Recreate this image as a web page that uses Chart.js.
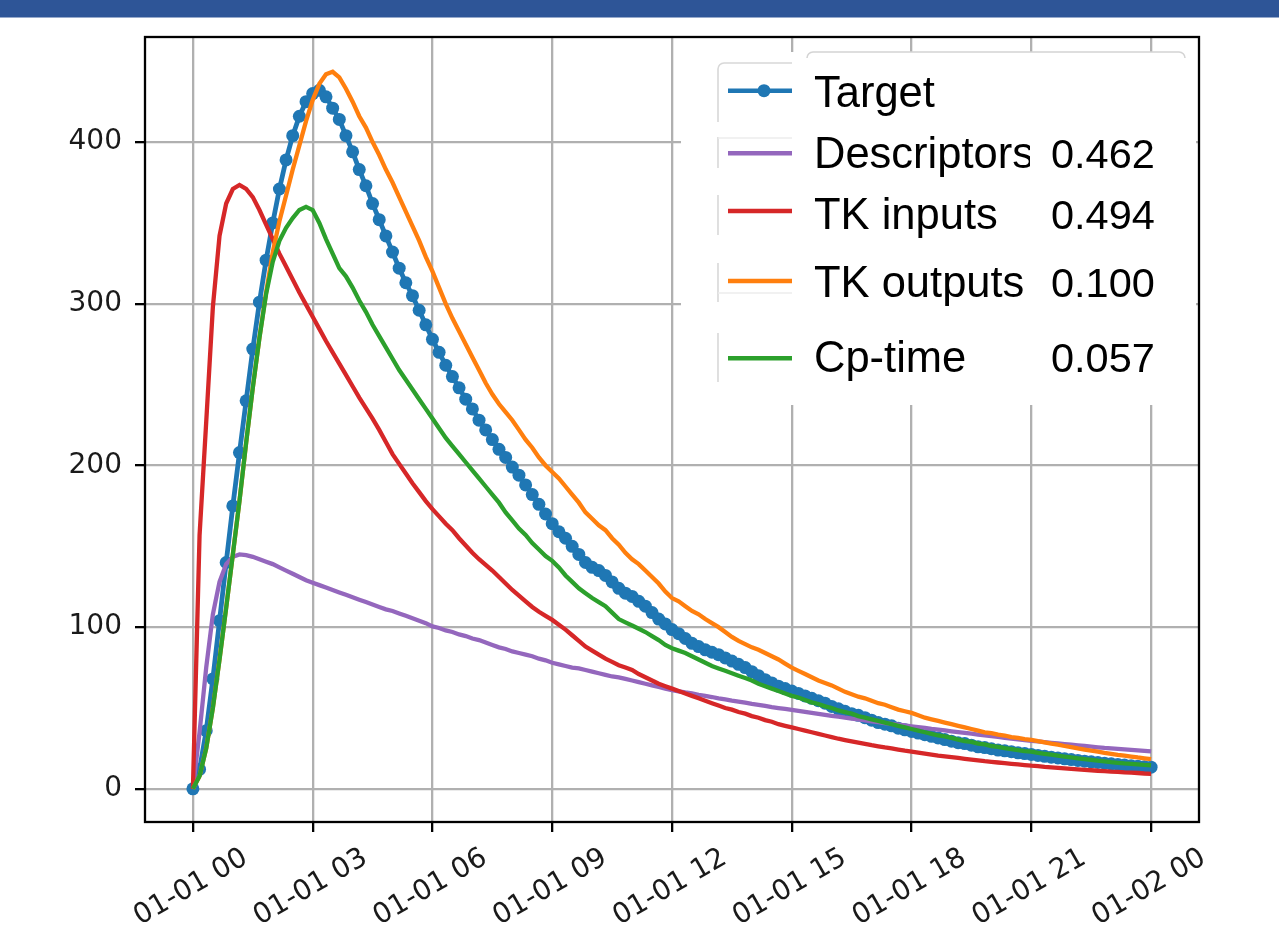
<!DOCTYPE html>
<html>
<head>
<meta charset="utf-8">
<title>Concentration profiles</title>
<script src="https://cdn.jsdelivr.net/npm/chart.js@4.4.1/dist/chart.umd.min.js"></script>
<style>
  html, body { margin: 0; padding: 0; background: #ffffff; }
  canvas { display: block; }
</style>
</head>
<body>
<canvas id="chart" width="1279" height="950"></canvas>
<script>
// Sampling grid: one value every 10 minutes over 24 hours (145 samples)
const sampleMinutes = Array.from({ length: 145 }, (_, i) => i * 10);

const xTickHours = [0, 3, 6, 9, 12, 15, 18, 21, 24];
const xTickLabels = ['01-01 00', '01-01 03', '01-01 06', '01-01 09', '01-01 12',
                     '01-01 15', '01-01 18', '01-01 21', '01-02 00'];
const yTickValues = [0, 100, 200, 300, 400];

const seriesNames = ['Target', 'Descriptors', 'TK inputs', 'TK outputs', 'Cp-time'];
const seriesScores = ['', '0.462', '0.494', '0.100', '0.057'];

const targetValues = [
  0, 12, 36, 68, 104, 140, 175, 208, 240, 272, 301, 327,
  350, 371, 389, 404, 416, 425, 430, 432, 428, 421, 414, 404,
  394, 383, 373, 362, 352, 342, 332, 322, 313, 305, 296, 287,
  278, 270, 262, 255, 248, 241, 235, 228, 222, 216, 210, 205,
  199, 194, 188, 182, 176, 170, 164, 159, 155, 150, 145, 140,
  137, 135, 132, 128, 124, 121, 119, 116, 113, 109, 105, 102,
  98.5, 96, 93, 90, 88, 86, 84.5, 83, 81, 79, 77, 75,
  72.5, 70, 67.5, 65.5, 63.5, 62, 60.5, 59, 57.5, 56, 54.5, 53,
  51, 49.5, 48, 46.5, 45.5, 44, 42.5, 41, 40, 39, 37.5, 36.5,
  35.5, 34.5, 33.5, 32.5, 31.5, 30.5, 29.5, 28.5, 28, 27, 26, 25.5,
  24.8, 24, 23.5, 23, 22.3, 21.8, 21.3, 20.7, 20.1, 19.6, 19.1, 18.6,
  18.1, 17.6, 17.1, 16.7, 16.3, 15.9, 15.5, 15.1, 14.7, 14.3, 14, 13.7,
  13.4
];

const descriptorValues = [
  0, 35, 75, 108, 128, 139, 143.5, 145, 144.5, 143.5, 142, 140.5,
  139, 137, 135, 133, 131, 129, 127.5, 126, 124.5, 123, 121.5, 120,
  118.5, 117, 115.5, 114, 112.5, 111, 110, 108.5, 107, 105.5, 104, 102.5,
  100.5, 99.5, 98, 97, 95.5, 94.5, 93, 92, 90.5, 89, 87.5, 86.5,
  85, 84, 83, 82, 80.5, 79.5, 78, 77, 76, 75, 74.5, 73.5,
  72.5, 71.5, 70.5, 69.5, 69, 68, 67, 66, 65, 64, 63, 62,
  61, 60.3, 59.6, 59, 58.2, 57.5, 56.8, 56, 55.3, 54.6, 54, 53.3,
  52.6, 52, 51.3, 50.6, 50, 49.4, 48.8, 48.2, 47.6, 47, 46.4, 45.8,
  45.2, 44.6, 44, 43.5, 42.9, 42.3, 41.8, 41.2, 40.7, 40.2, 39.7, 39.2,
  38.7, 38.2, 37.7, 37.1, 36.6, 36.1, 35.6, 35.1, 34.6, 34.1, 33.6, 33.1,
  32.6, 32.1, 31.6, 31.1, 30.6, 30.2, 29.7, 29.3, 28.9, 28.5, 28.1, 27.7,
  27.3, 26.9, 26.5, 26.1, 25.7, 25.3, 25, 24.7, 24.4, 24.1, 23.8, 23.5,
  23.2
];

const tkInputValues = [
  0, 157, 227, 298, 342, 362, 371, 373.5, 371, 366, 358, 349,
  340, 331, 323, 315, 307, 299.5, 292, 284.5, 277, 270, 263, 256,
  249, 242, 235.5, 229, 222, 214.5, 207, 201, 195, 189, 183.5, 178,
  173, 168.5, 164, 160, 155, 150.5, 146, 142, 138.5, 135, 131, 127,
  123, 119.5, 116, 112.5, 109.5, 107, 104.5, 101.5, 98.5, 95, 91.5, 88,
  85.5, 83, 80.5, 78.5, 76.5, 75, 73.5, 71, 69, 67, 65, 63.5,
  62, 60.5, 59, 57.5, 56, 54.5, 53, 51.5, 50, 49, 47.5, 46.5,
  45, 44, 42.5, 41.5, 40, 39, 38, 37, 36, 35, 34, 33,
  32, 31, 30.2, 29.4, 28.6, 27.8, 27, 26.3, 25.6, 25, 24.3, 23.6,
  23, 22.4, 21.8, 21.2, 20.6, 20.1, 19.6, 19.1, 18.6, 18.1, 17.6, 17.1,
  16.7, 16.3, 15.9, 15.5, 15.1, 14.7, 14.3, 14, 13.6, 13.3, 13, 12.7,
  12.4, 12.1, 11.8, 11.5, 11.2, 11, 10.7, 10.5, 10.2, 10, 9.8, 9.5,
  9.3
];

const tkOutputValues = [
  0, 8, 25, 50, 80, 112, 145, 178, 214, 248, 279, 307,
  332, 351, 367, 383, 398, 413, 426, 436, 442, 443.5, 440, 433,
  425, 416, 409, 400, 392, 383, 375, 366, 357, 348, 339, 329,
  320, 310, 300, 291, 283, 275, 267, 259, 251, 244, 238, 233,
  228, 222, 216, 211, 205, 200, 196, 192, 187, 182, 177, 171,
  167, 163, 160, 155, 151, 146, 142, 139, 135, 131, 127, 122,
  118, 116, 113, 110, 108, 105, 102.5, 100, 97, 94, 91.5, 89.5,
  87.5, 86, 84, 82, 80, 77.5, 75, 73, 71, 69, 67, 65.5,
  64, 62, 60, 58.5, 57, 56, 54.5, 53, 52, 50.5, 49, 48,
  47, 45.5, 44, 43, 42, 41, 40, 39, 38, 37, 36, 35,
  34.5, 33.5, 33, 32, 31.5, 30.8, 30.3, 29.5, 28.8, 28, 27.3, 26.5,
  25.8, 25, 24.3, 23.6, 23, 22.3, 21.7, 21, 20.5, 20, 19.4, 18.9,
  18.4
];

const cpTimeValues = [
  0, 8, 25, 50, 80, 112, 145, 178, 214, 248, 279, 306,
  326, 339, 347, 353, 358, 360, 358, 350, 340, 331, 322, 317,
  310, 302, 295, 287, 280, 273, 266, 259, 253, 247, 241, 235,
  229, 223, 217, 212, 207, 202, 197, 192, 187, 182, 177, 171,
  166, 161, 157, 152, 148, 144, 141, 137, 132, 128, 124, 121,
  118, 115.5, 113, 109, 105, 103, 101, 99, 97, 94.5, 92, 89,
  87, 85.5, 84, 82, 80, 78, 76, 74.5, 73, 71.5, 70, 68.5,
  67, 65, 63.5, 62, 60.5, 59, 57.5, 56.5, 55, 53.5, 52.5, 51,
  50, 48.5, 47.5, 46.5, 45, 44, 43, 42, 41, 40, 39, 38,
  37, 36, 35, 34, 33, 32.5, 31.5, 30.5, 29.5, 29, 28, 27.5,
  26.5, 26, 25.2, 24.6, 24, 23.4, 23, 22.3, 21.7, 21.1, 20.5, 20,
  19.4, 18.9, 18.4, 17.9, 17.4, 17, 16.5, 16.1, 15.7, 15.4, 15.1, 14.8,
  14.6
];

const seriesColors = ['#1f77b4', '#9467bd', '#d62728', '#ff7f0e', '#2ca02c'];

const hoursSinceStart = sampleMinutes.map(m => m / 60);
const toPoints = vals => vals.map((v, i) => ({ x: hoursSinceStart[i], y: v }));

const tickFontSize = 28;

const gridStyle = {
  color: '#b0b0b0',
  lineWidth: 2.3,
  tickColor: '#000000',
  tickLength: 10,
  tickWidth: 2.3
};

// Frame, legend panel, rotated date labels and the title band
const decorations = {
  id: 'decorations',
  afterDraw(chart) {
    const ctx = chart.ctx;
    const area = chart.chartArea;
    const xs = chart.scales.x;

    ctx.save();

    // title band
    ctx.fillStyle = '#2E5597';
    ctx.fillRect(0, 0, 1279, 17.5);

    // legend panel background
    ctx.fillStyle = '#ffffff';
    ctx.fillRect(681, 52, 515, 353);

    // upper panel edge
    ctx.strokeStyle = '#d4d4d4';
    ctx.lineWidth = 1.6;
    ctx.beginPath();
    ctx.moveTo(807, 58);
    ctx.arcTo(807, 52, 813, 52, 6);
    ctx.lineTo(1179, 52);
    ctx.arcTo(1185, 52, 1185, 58, 6);
    ctx.stroke();

    // lower panel edge pieces
    ctx.strokeStyle = '#d8d8d8';
    ctx.beginPath();
    ctx.moveTo(718, 122);
    ctx.lineTo(718, 69);
    ctx.arcTo(718, 63, 724, 63, 6);
    ctx.lineTo(792, 63);
    ctx.stroke();
    [[137, 168], [195, 235], [263, 302], [333, 382]].forEach(([a, b]) => {
      ctx.beginPath();
      ctx.moveTo(718, a);
      ctx.lineTo(718, b);
      ctx.stroke();
    });
    ctx.strokeStyle = '#ececec';
    [138, 293].forEach(yy => {
      ctx.beginPath();
      ctx.moveTo(718, yy);
      ctx.lineTo(792, yy);
      ctx.stroke();
    });

    // legend handles
    const handleY = [90.7, 153.3, 211, 281, 358.3];
    const textY = [106.7, 168.3, 229.3, 296.7, 372.3];
    handleY.forEach((hy, i) => {
      ctx.strokeStyle = seriesColors[i];
      ctx.lineWidth = 4.4;
      ctx.beginPath();
      ctx.moveTo(728, hy);
      ctx.lineTo(792, hy);
      ctx.stroke();
    });
    ctx.fillStyle = seriesColors[0];
    ctx.beginPath();
    ctx.arc(764, handleY[0], 6.5, 0, Math.PI * 2);
    ctx.fill();

    // legend text
    ctx.fillStyle = '#000000';
    ctx.textAlign = 'left';
    ctx.textBaseline = 'alphabetic';
    seriesNames.forEach((name, i) => {
      ctx.save();
      ctx.beginPath();
      ctx.rect(800, textY[i] - 45, 230, 60);
      ctx.clip();
      ctx.font = '43.5px "Liberation Sans", Arial, sans-serif';
      ctx.fillText(name, 814, textY[i]);
      ctx.restore();
      if (seriesScores[i]) {
        ctx.font = '41.5px "Liberation Sans", Arial, sans-serif';
        ctx.fillText(seriesScores[i], 1051, textY[i]);
      }
    });

    // axes frame
    ctx.strokeStyle = '#000000';
    ctx.lineWidth = 2.3;
    ctx.strokeRect(area.left, area.top, area.right - area.left, area.bottom - area.top);

    // rotated date labels, centred under each tick
    ctx.font = tickFontSize + 'px "DejaVu Sans", sans-serif';
    ctx.fillStyle = '#1a1a1a';
    ctx.textAlign = 'center';
    ctx.textBaseline = 'middle';
    const ang = 30 * Math.PI / 180;
    const lineH = tickFontSize * 1.164;
    xTickHours.forEach((h, i) => {
      const px = xs.getPixelForValue(h);
      const w = ctx.measureText(xTickLabels[i]).width;
      const boxH = w * Math.sin(ang) + lineH * Math.cos(ang);
      const top = area.bottom + 10 + 10;
      ctx.save();
      ctx.translate(px - 2, top + boxH / 2);
      ctx.rotate(-ang);
      ctx.fillText(xTickLabels[i], 0, 0);
      ctx.restore();
    });

    ctx.restore();
  }
};

const lineSet = (label, values, color, order, extra) => Object.assign({
  label,
  data: toPoints(values),
  borderColor: color,
  backgroundColor: color,
  borderWidth: 4.3,
  pointRadius: 0,
  pointHoverRadius: 0,
  tension: 0,
  order
}, extra || {});

new Chart(document.getElementById('chart').getContext('2d'), {
  type: 'line',
  data: {
    datasets: [
      lineSet(seriesNames[0], targetValues, seriesColors[0], 5,
              { pointRadius: 6.5, pointHoverRadius: 6.5, pointBorderWidth: 0, borderWidth: 4.8 }),
      lineSet(seriesNames[1], descriptorValues, seriesColors[1], 4),
      lineSet(seriesNames[2], tkInputValues, seriesColors[2], 3),
      lineSet(seriesNames[3], tkOutputValues, seriesColors[3], 2),
      lineSet(seriesNames[4], cpTimeValues, seriesColors[4], 1)
    ]
  },
  options: {
    responsive: false,
    animation: false,
    devicePixelRatio: 1,
    events: [],
    layout: { padding: { top: 37, right: 80, left: 0, bottom: 0 } },
    plugins: { legend: { display: false }, tooltip: { enabled: false } },
    scales: {
      x: {
        type: 'linear',
        min: -1.2,
        max: 25.2,
        afterBuildTicks: s => { s.ticks = xTickHours.map(v => ({ value: v })); },
        afterFit: s => { s.height = 128; },
        ticks: { display: false },
        grid: gridStyle,
        border: { display: false }
      },
      y: {
        type: 'linear',
        min: -20.5,
        max: 465,
        afterBuildTicks: s => { s.ticks = yTickValues.map(v => ({ value: v })); },
        afterFit: s => { s.width = 145; },
        ticks: {
          font: { family: '"DejaVu Sans", sans-serif', size: tickFontSize },
          color: '#1a1a1a',
          padding: 13
        },
        grid: gridStyle,
        border: { display: false }
      }
    }
  },
  plugins: [decorations]
});
</script>
</body>
</html>
